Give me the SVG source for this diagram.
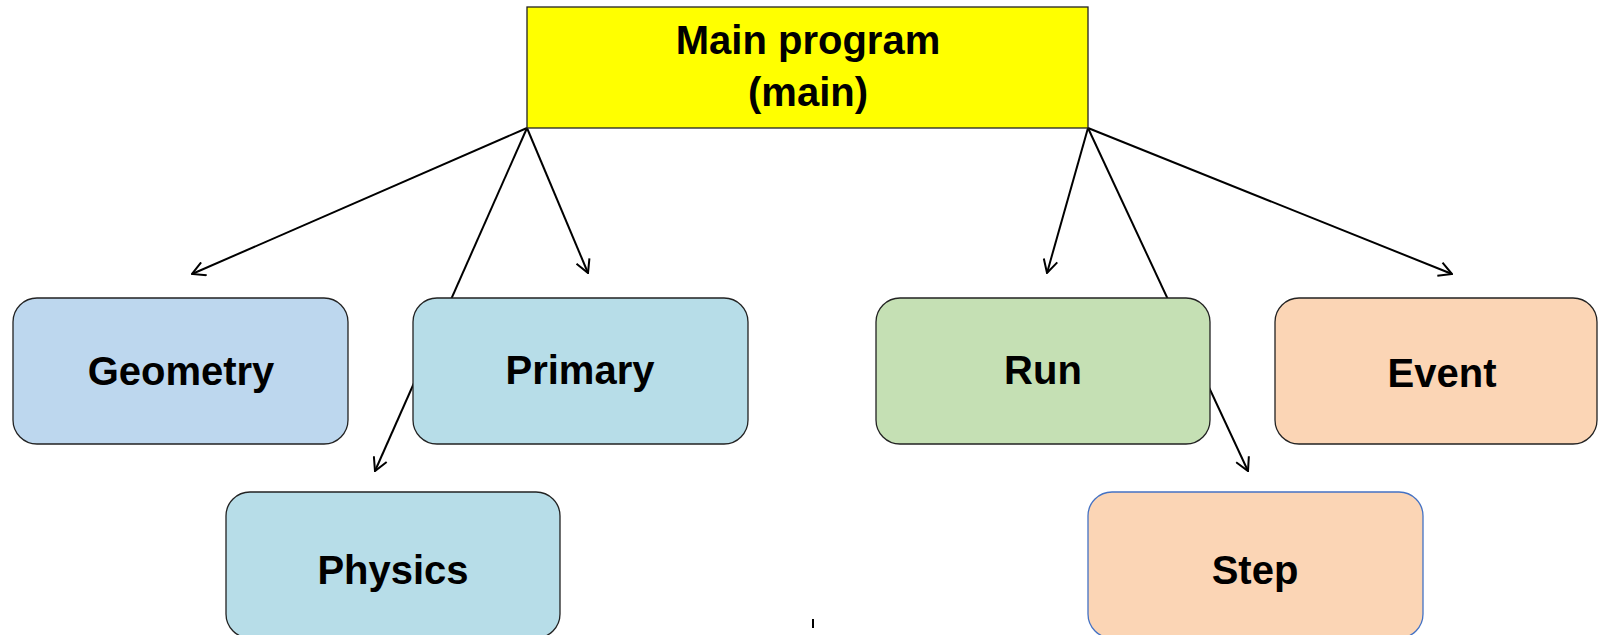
<svg xmlns="http://www.w3.org/2000/svg" width="1599" height="635" viewBox="0 0 1599 635">
<style>
.node{stroke:#222;stroke-width:1.3}
.lbl{font-family:"Liberation Sans",Arial,sans-serif;font-weight:bold;font-size:40px;fill:#000;text-anchor:middle}
.conn{stroke:#000;stroke-width:2;fill:none;marker-end:url(#arr)}
</style>
<defs>
<marker id="arr" viewBox="0 0 15 16" refX="14" refY="8" markerWidth="15" markerHeight="16" markerUnits="userSpaceOnUse" orient="auto">
<path d="M1,1 L14,8 L1,15" fill="none" stroke="#000" stroke-width="2"/>
</marker>
</defs>
<rect width="1599" height="635" fill="#fff"/>
<g id="connectors">
<line class="conn" x1="527" y1="128" x2="192" y2="274"/>
<line class="conn" x1="527" y1="128" x2="588" y2="273"/>
<line class="conn" x1="527" y1="128" x2="375" y2="471"/>
<line class="conn" x1="1088" y1="128" x2="1047" y2="273"/>
<line class="conn" x1="1088" y1="128" x2="1248" y2="471"/>
<line class="conn" x1="1088" y1="128" x2="1452" y2="274"/>
</g>
<g id="main">
<rect class="node" x="527" y="7" width="561" height="121" fill="#FFFF00"/>
<text class="lbl" x="808" y="54">Main program</text>
<text class="lbl" x="808" y="106">(main)</text>
</g>
<g id="geometry">
<rect class="node" x="13" y="298" width="335" height="146" rx="24" fill="#BDD7EE"/>
<text class="lbl" x="181" y="385">Geometry</text>
</g>
<g id="primary">
<rect class="node" x="413" y="298" width="335" height="146" rx="24" fill="#B7DDE8"/>
<text class="lbl" x="580" y="384">Primary</text>
</g>
<g id="run">
<rect class="node" x="876" y="298" width="334" height="146" rx="24" fill="#C5E0B4"/>
<text class="lbl" x="1043" y="384">Run</text>
</g>
<g id="event">
<rect class="node" x="1275" y="298" width="322" height="146" rx="24" fill="#FBD5B5"/>
<text class="lbl" x="1442" y="387">Event</text>
</g>
<g id="physics">
<rect class="node" x="226" y="492" width="334" height="146" rx="24" fill="#B7DDE8"/>
<text class="lbl" x="393" y="584">Physics</text>
</g>
<g id="step">
<rect x="1088" y="492" width="335" height="146" rx="24" fill="#FBD5B5" stroke="#4472C4" stroke-width="1.3"/>
<text class="lbl" x="1255" y="584">Step</text>
</g>
<line x1="813" y1="619" x2="813" y2="628" stroke="#000" stroke-width="2"/>
</svg>
